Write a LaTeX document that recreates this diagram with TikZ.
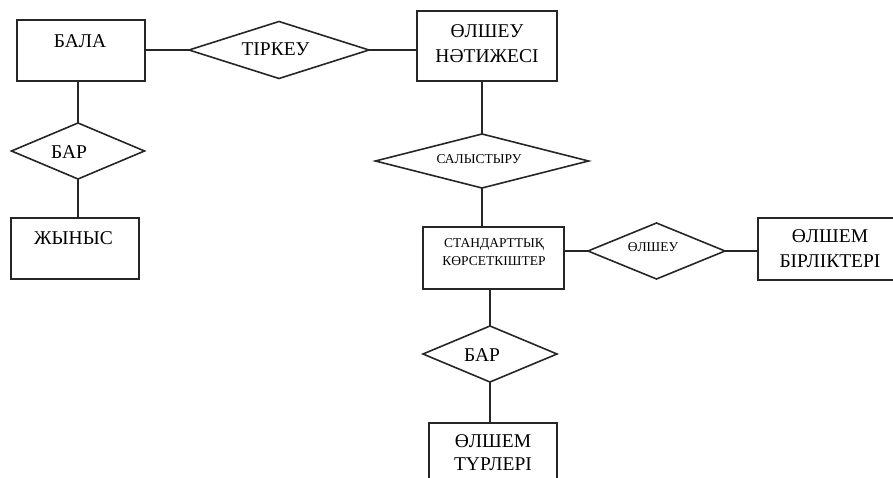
\documentclass[tikz,border=0pt]{standalone}
\usepackage{fontspec}
\setmainfont{Liberation Serif}
\usetikzlibrary{shapes.geometric}
\begin{document}
\begin{tikzpicture}[x=1pt,y=-1pt,
  line width=1.6pt,
  every node/.style={inner sep=0pt, outer sep=0pt},
  entity/.style={draw=black!85, rectangle},
  relation/.style={draw=black!85, diamond},
  link/.style={draw=black!85, line width=1.6pt},
  bigtxt/.style={font=\fontsize{19.5}{25}\selectfont, align=center},
  smalltxt/.style={font=\fontsize{13.5}{18}\selectfont, align=center}
]
\useasboundingbox (0,0) rectangle (893,478);
\clip (0,0) rectangle (893,478);

% entities
\node[entity, minimum width=128pt, minimum height=61pt] (bala)  at (81,50.5) {};
\node[entity, minimum width=140pt, minimum height=70pt] (res)   at (487,46) {};
\node[entity, minimum width=128pt, minimum height=61pt] (zhyn)  at (75,248.5) {};
\node[entity, minimum width=141pt, minimum height=62pt] (std)   at (493.5,258) {};
\node[entity, minimum width=142pt, minimum height=62pt] (units) at (829,249) {};
\node[entity, minimum width=128pt, minimum height=67pt] (types) at (493,456.5) {};

% relations
\node[relation, minimum width=180pt, minimum height=57pt] (tirk) at (279,50) {};
\node[relation, minimum width=133pt, minimum height=56pt] (bar1) at (78,151) {};
\node[relation, minimum width=213pt, minimum height=54pt] (sal)  at (482,161) {};
\node[relation, minimum width=137pt, minimum height=56pt] (olsh) at (656.5,251) {};
\node[relation, minimum width=134pt, minimum height=56pt] (bar2) at (490,354) {};

% labels
\node[bigtxt]   (balaT)  at (80,41)    {БАЛА};
\node[bigtxt]   (tirkT)  at (275.5,49) {ТІРКЕУ};
\node[bigtxt]   (resT)   at (487,43.5) {ӨЛШЕУ\\НӘТИЖЕСІ};
\node[bigtxt]   (bar1T)  at (69,152)   {БАР};
\node[bigtxt]   (zhynT)  at (73.5,238) {ЖЫНЫС};
\node[smalltxt] (salT)   at (479,159)  {САЛЫСТЫРУ};
\node[smalltxt] (stdT)   at (494,252)  {СТАНДАРТТЫҚ\\КӨРСЕТКІШТЕР};
\node[smalltxt] (olshT)  at (653,247)  {ӨЛШЕУ};
\node[bigtxt]   (unitsT) at (830,249)  {ӨЛШЕМ\\БІРЛІКТЕРІ};
\node[bigtxt]   (bar2T)  at (482,355)  {БАР};
\node[bigtxt, font=\fontsize{19.5}{23}\selectfont] (typesT) at (493,453) {ӨЛШЕМ\\ТҮРЛЕРІ};

% connectors
\draw[link] (tirk.west -| bala.east) -- (tirk.west);
\draw[link] (tirk.east) -- (tirk.east -| res.west);
\draw[link] (sal.north) -- (sal.north |- res.south);
\draw[link] (sal.south) -- (sal.south |- std.north);
\draw[link] (olsh.west -| std.east) -- (olsh.west);
\draw[link] (olsh.east) -- (olsh.east -| units.west);
\draw[link] (bar1.north) -- (bar1.north |- bala.south);
\draw[link] (bar1.south) -- (bar1.south |- zhyn.north);
\draw[link] (bar2.north) -- (bar2.north |- std.south);
\draw[link] (bar2.south) -- (bar2.south |- types.north);
\end{tikzpicture}
\end{document}
